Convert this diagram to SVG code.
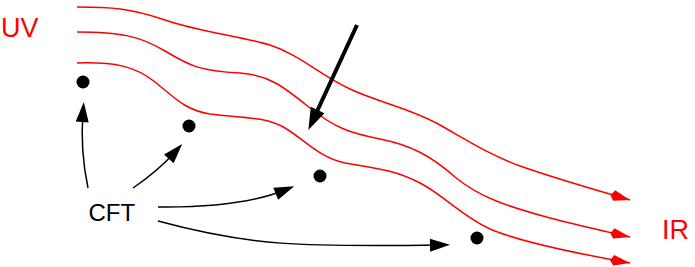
<svg xmlns="http://www.w3.org/2000/svg" width="695" height="267" viewBox="0 0 695 267">
<style>
.wave{fill:none;stroke:#ff0000;stroke-width:1.5}
.conn{fill:none;stroke:#000;stroke-width:1.5}
.thick{fill:none;stroke:#000;stroke-width:4}
.dot{fill:#000}
.lbl{font-family:"Liberation Sans",Arial,sans-serif}
.red{fill:#ff0000}
</style>
<defs>
<marker id="redHead" markerUnits="userSpaceOnUse" markerWidth="40" markerHeight="40" refX="0" refY="0" orient="auto" overflow="visible">
<path d="M0,0 L-17,-5 L-20,1 L-16,5.5 Z" fill="#ff0000"/>
</marker>
<marker id="blackHead" markerUnits="userSpaceOnUse" markerWidth="40" markerHeight="40" refX="0" refY="0" orient="auto" overflow="visible">
<path d="M10,0 L-10,-6.5 L-10,6.5 Z" fill="#000"/>
</marker>
<marker id="bigHead" markerUnits="userSpaceOnUse" markerWidth="40" markerHeight="40" refX="0" refY="0" orient="auto" overflow="visible">
<path d="M11,0 L-11,-7.5 L-11,7.5 Z" fill="#000"/>
</marker>
</defs>
<g id="waves">
<path class="wave" d="M77,7 C110,7 130,8 165,20 C200,32 240,36 270,45 C300,55 320,75 350,89 C380,103 410,108 440,125 C470,142 490,155 520,166 C560,180 600,191 630,200" marker-end="url(#redHead)"/>
<path class="wave" d="M77,32 C120,32 140,36 165,51 C190,66 200,71 240,73 C270,75 285,88 310,108 C335,128 350,133 380,139 C410,145 430,155 455,177 C480,198 510,207 550,218 C580,226 605,231 630,237" marker-end="url(#redHead)"/>
<path class="wave" d="M77,63 C115,62 135,66 155,82 C175,98 185,110 210,114 C240,118 265,116 285,128 C305,140 320,158 345,163 C375,168 395,170 420,183 C445,196 460,215 490,229 C520,242 580,254 630,263" marker-end="url(#redHead)"/>
</g>
<g id="label-UV"><text class="lbl red" x="1" y="37" font-size="27">UV</text></g>
<g id="label-IR"><text class="lbl red" x="662" y="239" font-size="27">IR</text></g>
<g id="label-CFT"><text class="lbl" x="88.5" y="221" font-size="24" fill="#000">CFT</text></g>
<g id="dot1"><circle class="dot" cx="83" cy="82" r="6.5"/></g>
<g id="dot2"><circle class="dot" cx="189" cy="126" r="6.5"/></g>
<g id="dot3"><circle class="dot" cx="320" cy="176" r="6.5"/></g>
<g id="dot4"><circle class="dot" cx="477" cy="238" r="6.5"/></g>
<g id="connectors">
<path class="conn" d="M88,188 Q80,150 83,112" marker-end="url(#blackHead)"/>
<path class="conn" d="M133,188 Q158,171 175.5,151.5" marker-end="url(#blackHead)"/>
<path class="conn" d="M158,207 Q240,208 285,190" marker-end="url(#blackHead)"/>
<path class="conn" d="M158,221 C250,246 300,247 440,245" marker-end="url(#blackHead)"/>
<path class="thick" d="M357,25 L313,120" marker-end="url(#bigHead)"/>
</g>
</svg>
